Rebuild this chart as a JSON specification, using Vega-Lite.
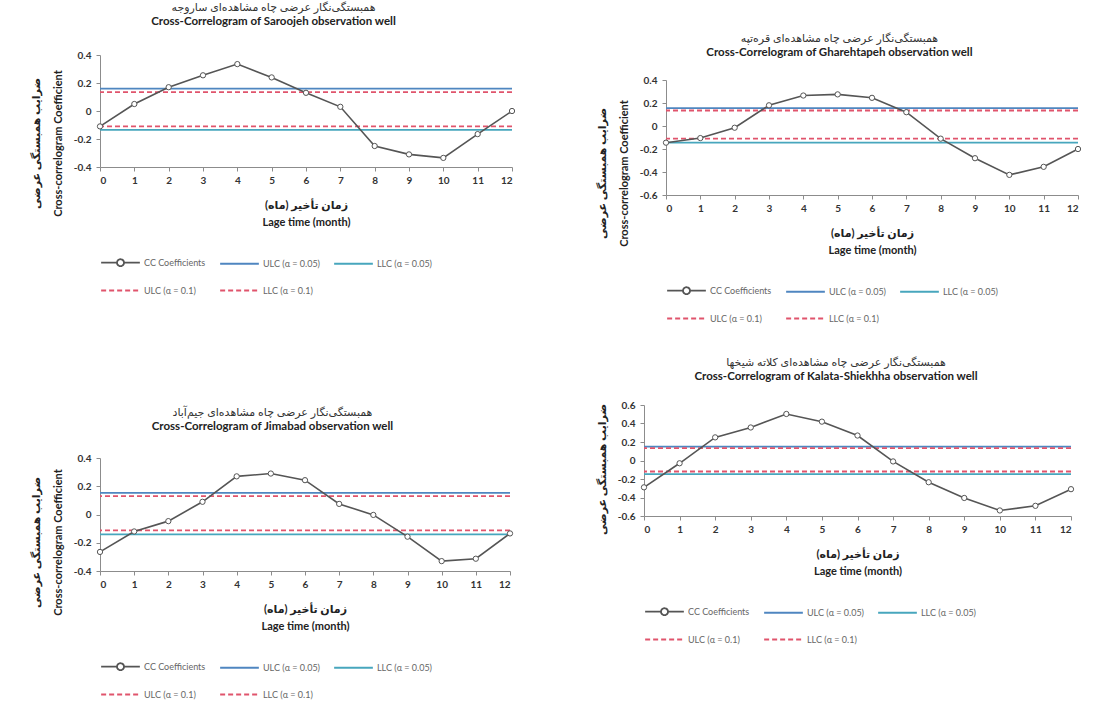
{
  "$schema": "https://vega.github.io/schema/vega-lite/v6.json",
  "padding": {"left": 30, "top": 0, "right": 5, "bottom": 5},
  "background": "white",
  "datasets": {
    "cc": [
      {"well": "Saroojeh", "series": "CC Coefficients", "lag": 0, "value": -0.11},
      {"well": "Saroojeh", "series": "CC Coefficients", "lag": 1, "value": 0.05},
      {"well": "Saroojeh", "series": "CC Coefficients", "lag": 2, "value": 0.17},
      {"well": "Saroojeh", "series": "CC Coefficients", "lag": 3, "value": 0.255},
      {"well": "Saroojeh", "series": "CC Coefficients", "lag": 4, "value": 0.335},
      {"well": "Saroojeh", "series": "CC Coefficients", "lag": 5, "value": 0.24},
      {"well": "Saroojeh", "series": "CC Coefficients", "lag": 6, "value": 0.13},
      {"well": "Saroojeh", "series": "CC Coefficients", "lag": 7, "value": 0.03},
      {"well": "Saroojeh", "series": "CC Coefficients", "lag": 8, "value": -0.25},
      {"well": "Saroojeh", "series": "CC Coefficients", "lag": 9, "value": -0.31},
      {"well": "Saroojeh", "series": "CC Coefficients", "lag": 10, "value": -0.335},
      {"well": "Saroojeh", "series": "CC Coefficients", "lag": 11, "value": -0.165},
      {"well": "Saroojeh", "series": "CC Coefficients", "lag": 12, "value": 0.0},
      {"well": "Gharehtapeh", "series": "CC Coefficients", "lag": 0, "value": -0.145},
      {"well": "Gharehtapeh", "series": "CC Coefficients", "lag": 1, "value": -0.105},
      {"well": "Gharehtapeh", "series": "CC Coefficients", "lag": 2, "value": -0.015},
      {"well": "Gharehtapeh", "series": "CC Coefficients", "lag": 3, "value": 0.18},
      {"well": "Gharehtapeh", "series": "CC Coefficients", "lag": 4, "value": 0.265},
      {"well": "Gharehtapeh", "series": "CC Coefficients", "lag": 5, "value": 0.275},
      {"well": "Gharehtapeh", "series": "CC Coefficients", "lag": 6, "value": 0.245},
      {"well": "Gharehtapeh", "series": "CC Coefficients", "lag": 7, "value": 0.12},
      {"well": "Gharehtapeh", "series": "CC Coefficients", "lag": 8, "value": -0.11},
      {"well": "Gharehtapeh", "series": "CC Coefficients", "lag": 9, "value": -0.28},
      {"well": "Gharehtapeh", "series": "CC Coefficients", "lag": 10, "value": -0.425},
      {"well": "Gharehtapeh", "series": "CC Coefficients", "lag": 11, "value": -0.355},
      {"well": "Gharehtapeh", "series": "CC Coefficients", "lag": 12, "value": -0.2},
      {"well": "Jimabad", "series": "CC Coefficients", "lag": 0, "value": -0.265},
      {"well": "Jimabad", "series": "CC Coefficients", "lag": 1, "value": -0.12},
      {"well": "Jimabad", "series": "CC Coefficients", "lag": 2, "value": -0.047},
      {"well": "Jimabad", "series": "CC Coefficients", "lag": 3, "value": 0.09},
      {"well": "Jimabad", "series": "CC Coefficients", "lag": 4, "value": 0.27},
      {"well": "Jimabad", "series": "CC Coefficients", "lag": 5, "value": 0.29},
      {"well": "Jimabad", "series": "CC Coefficients", "lag": 6, "value": 0.243},
      {"well": "Jimabad", "series": "CC Coefficients", "lag": 7, "value": 0.075},
      {"well": "Jimabad", "series": "CC Coefficients", "lag": 8, "value": -0.003},
      {"well": "Jimabad", "series": "CC Coefficients", "lag": 9, "value": -0.157},
      {"well": "Jimabad", "series": "CC Coefficients", "lag": 10, "value": -0.33},
      {"well": "Jimabad", "series": "CC Coefficients", "lag": 11, "value": -0.313},
      {"well": "Jimabad", "series": "CC Coefficients", "lag": 12, "value": -0.134},
      {"well": "Kalata-Shiekhha", "series": "CC Coefficients", "lag": 0, "value": -0.29},
      {"well": "Kalata-Shiekhha", "series": "CC Coefficients", "lag": 1, "value": -0.03},
      {"well": "Kalata-Shiekhha", "series": "CC Coefficients", "lag": 2, "value": 0.25},
      {"well": "Kalata-Shiekhha", "series": "CC Coefficients", "lag": 3, "value": 0.357},
      {"well": "Kalata-Shiekhha", "series": "CC Coefficients", "lag": 4, "value": 0.503},
      {"well": "Kalata-Shiekhha", "series": "CC Coefficients", "lag": 5, "value": 0.42},
      {"well": "Kalata-Shiekhha", "series": "CC Coefficients", "lag": 6, "value": 0.27},
      {"well": "Kalata-Shiekhha", "series": "CC Coefficients", "lag": 7, "value": -0.01},
      {"well": "Kalata-Shiekhha", "series": "CC Coefficients", "lag": 8, "value": -0.235},
      {"well": "Kalata-Shiekhha", "series": "CC Coefficients", "lag": 9, "value": -0.405},
      {"well": "Kalata-Shiekhha", "series": "CC Coefficients", "lag": 10, "value": -0.54},
      {"well": "Kalata-Shiekhha", "series": "CC Coefficients", "lag": 11, "value": -0.49},
      {"well": "Kalata-Shiekhha", "series": "CC Coefficients", "lag": 12, "value": -0.31}
    ],
    "lim": [
      {"well": "Saroojeh", "series": "ULC (α = 0.05)", "value": 0.16},
      {"well": "Saroojeh", "series": "LLC (α = 0.05)", "value": -0.135},
      {"well": "Saroojeh", "series": "ULC (α = 0.1)", "value": 0.135},
      {"well": "Saroojeh", "series": "LLC (α = 0.1)", "value": -0.11},
      {"well": "Gharehtapeh", "series": "ULC (α = 0.05)", "value": 0.155},
      {"well": "Gharehtapeh", "series": "LLC (α = 0.05)", "value": -0.145},
      {"well": "Gharehtapeh", "series": "ULC (α = 0.1)", "value": 0.135},
      {"well": "Gharehtapeh", "series": "LLC (α = 0.1)", "value": -0.11},
      {"well": "Jimabad", "series": "ULC (α = 0.05)", "value": 0.153},
      {"well": "Jimabad", "series": "LLC (α = 0.05)", "value": -0.141},
      {"well": "Jimabad", "series": "ULC (α = 0.1)", "value": 0.13},
      {"well": "Jimabad", "series": "LLC (α = 0.1)", "value": -0.113},
      {"well": "Kalata-Shiekhha", "series": "ULC (α = 0.05)", "value": 0.151},
      {"well": "Kalata-Shiekhha", "series": "LLC (α = 0.05)", "value": -0.148},
      {"well": "Kalata-Shiekhha", "series": "ULC (α = 0.1)", "value": 0.133},
      {"well": "Kalata-Shiekhha", "series": "LLC (α = 0.1)", "value": -0.119}
    ]
  },
  "config": {
    "font": "Lato, DejaVu Sans",
    "view": {"stroke": null},
    "axis": {"grid": false, "labelOverlap": false, "tickCount": 20, "domainColor": "#8c8c8c", "tickColor": "#8c8c8c", "tickSize": 4, "labelFont": "Lato", "labelFontSize": 10, "labelFontWeight": "bold", "labelColor": "#333333", "titleFont": "Lato, DejaVu Sans", "titleFontSize": 11, "titleFontWeight": "bold", "titleColor": "#222222"},
    "axisX": {"titlePadding": 14, "labelPadding": 4, "titleLineHeight": 17},
    "axisY": {"titlePadding": 10, "labelPadding": 5, "titleLineHeight": 22},
    "legend": {"orient": "bottom", "direction": "horizontal", "columns": 3, "symbolSize": 1500, "symbolStrokeWidth": 1.8, "labelFontSize": 9, "labelColor": "#666666", "columnPadding": 10, "rowPadding": -30, "offset": 15, "labelFont": "Lato", "labelOffset": 3},
    "title": {"font": "Lato, DejaVu Sans", "fontSize": 11, "fontWeight": "normal", "color": "#333333", "subtitleFont": "Lato", "subtitleFontSize": 11.5, "subtitleFontWeight": "bold", "subtitleColor": "#222222", "subtitlePadding": 0, "anchor": "middle", "frame": "bounds", "offset": 19}
  },
  "spacing": 78,
  "resolve": {"scale": {"color": "independent", "strokeDash": "independent", "shape": "independent"}, "legend": {"color": "independent", "strokeDash": "independent", "shape": "independent"}},
  "hconcat": [
    {
      "spacing": 110,
      "resolve": {"scale": {"color": "independent", "strokeDash": "independent", "shape": "independent"}, "legend": {"color": "independent", "strokeDash": "independent", "shape": "independent"}},
      "vconcat": [
        {
          "spacing": 0,
          "resolve": {"scale": {"color": "independent", "strokeDash": "independent", "shape": "independent"}, "legend": {"color": "independent", "strokeDash": "independent", "shape": "independent"}},
          "vconcat": [
            {"width": 1, "height": 1, "data": {"values": []}, "mark": "point"},
            {
              "width": 412, "height": 112,
              "title": {"text": "همبستگی‌نگار عرضی چاه مشاهده‌ای ساروجه", "subtitle": "Cross-Correlogram of Saroojeh observation well", "offset": 23},
              "layer": [
                {"data": {"name": "lim"}, "transform": [{"filter": "datum.well == 'Saroojeh'"}],
                 "mark": {"type": "rule", "strokeWidth": 1.8},
                 "encoding": {
                   "y": {"field": "value", "type": "quantitative", "scale": {"domain": [-0.4, 0.4], "nice": false, "zero": false}, "axis": {"values": [-0.4, -0.2, 0, 0.2, 0.4], "tickCount": 20, "labelOverlap": false, "titleY": 88, "title": ["ضرایب همبستگی عرضی", "Cross-correlogram Coefficient"], "labelExpr": "datum.value == 0 ? '0' : replace(format(datum.value, '.1f'), '−', '-')"}},
                   "color": {"field": "series", "type": "nominal", "scale": {"domain": ["CC Coefficients", "ULC (α = 0.05)", "LLC (α = 0.05)", "ULC (α = 0.1)", "LLC (α = 0.1)"], "range": ["#555555", "#4f86c0", "#47a6bd", "#e0546c", "#e0546c"]}, "legend": {"title": null}},
                   "strokeDash": {"field": "series", "type": "nominal", "scale": {"domain": ["CC Coefficients", "ULC (α = 0.05)", "LLC (α = 0.05)", "ULC (α = 0.1)", "LLC (α = 0.1)"], "range": [[1, 0], [1, 0], [1, 0], [5, 3], [5, 3]]}, "legend": {"title": null}}
                 }},
                {"data": {"name": "cc"}, "transform": [{"filter": "datum.well == 'Saroojeh'"}],
                 "mark": {"type": "line", "strokeWidth": 1.6},
                 "encoding": {
                   "x": {"field": "lag", "type": "quantitative", "scale": {"domain": [0, 12], "nice": false}, "axis": {"values": [0,1,2,3,4,5,6,7,8,9,10,11,12], "tickCount": 20, "labelOverlap": false, "format": "d", "title": ["زمان تأخیر (ماه)", "Lage time (month)"]}},
                   "y": {"field": "value", "type": "quantitative", "scale": {"domain": [-0.4, 0.4], "nice": false, "zero": false}, "axis": {"values": [-0.4, -0.2, 0, 0.2, 0.4], "tickCount": 20, "labelOverlap": false, "titleY": 88, "title": ["ضرایب همبستگی عرضی", "Cross-correlogram Coefficient"], "labelExpr": "datum.value == 0 ? '0' : replace(format(datum.value, '.1f'), '−', '-')"}},
                   "color": {"field": "series", "type": "nominal", "scale": {"domain": ["CC Coefficients", "ULC (α = 0.05)", "LLC (α = 0.05)", "ULC (α = 0.1)", "LLC (α = 0.1)"], "range": ["#555555", "#4f86c0", "#47a6bd", "#e0546c", "#e0546c"]}, "legend": {"title": null}}
                 }},
                {"data": {"name": "cc"}, "transform": [{"filter": "datum.well == 'Saroojeh'"}],
                 "mark": {"type": "point", "shape": "circle", "filled": false, "fill": "white", "size": 28, "strokeWidth": 1, "opacity": 1},
                 "encoding": {
                   "x": {"field": "lag", "type": "quantitative"},
                   "y": {"field": "value", "type": "quantitative"},
                   "color": {"field": "series", "type": "nominal", "legend": {"title": null}}
                 }},
                {"data": {"name": "cc"}, "transform": [{"filter": "false"}],
                 "mark": {"type": "point", "filled": false},
                 "encoding": {
                   "x": {"field": "lag", "type": "quantitative"},
                   "y": {"field": "value", "type": "quantitative"},
                   "color": {"field": "series", "type": "nominal", "legend": {"title": null}},
                   "shape": {"field": "series", "type": "nominal", "scale": {"domain": ["CC Coefficients", "ULC (α = 0.05)", "LLC (α = 0.05)", "ULC (α = 0.1)", "LLC (α = 0.1)"], "range": ["M-1,0H-0.18M0.18,0H1M-0.18,0A0.18,0.18,0,1,1,0.18,0A0.18,0.18,0,1,1,-0.18,0", "stroke", "stroke", "stroke", "stroke"]}, "legend": {"title": null}}
                 }}
              ]
            }
          ]
        },
        {
          "width": 410, "height": 113,
          "title": {"text": "همبستگی‌نگار عرضی چاه مشاهده‌ای جیم‌آباد", "subtitle": "Cross-Correlogram of Jimabad observation well", "offset": 21},
          "layer": [
            {"data": {"name": "lim"}, "transform": [{"filter": "datum.well == 'Jimabad'"}],
             "mark": {"type": "rule", "strokeWidth": 1.8},
             "encoding": {
               "y": {"field": "value", "type": "quantitative", "scale": {"domain": [-0.4, 0.4], "nice": false, "zero": false}, "axis": {"values": [-0.4, -0.2, 0, 0.2, 0.4], "tickCount": 20, "labelOverlap": false, "titleY": 84, "title": ["ضرایب همبستگی عرضی", "Cross-correlogram Coefficient"], "labelExpr": "datum.value == 0 ? '0' : replace(format(datum.value, '.1f'), '−', '-')"}},
               "color": {"field": "series", "type": "nominal", "scale": {"domain": ["CC Coefficients", "ULC (α = 0.05)", "LLC (α = 0.05)", "ULC (α = 0.1)", "LLC (α = 0.1)"], "range": ["#555555", "#4f86c0", "#47a6bd", "#e0546c", "#e0546c"]}, "legend": {"title": null}},
               "strokeDash": {"field": "series", "type": "nominal", "scale": {"domain": ["CC Coefficients", "ULC (α = 0.05)", "LLC (α = 0.05)", "ULC (α = 0.1)", "LLC (α = 0.1)"], "range": [[1, 0], [1, 0], [1, 0], [5, 3], [5, 3]]}, "legend": {"title": null}}
             }},
            {"data": {"name": "cc"}, "transform": [{"filter": "datum.well == 'Jimabad'"}],
             "mark": {"type": "line", "strokeWidth": 1.6},
             "encoding": {
               "x": {"field": "lag", "type": "quantitative", "scale": {"domain": [0, 12], "nice": false}, "axis": {"values": [0,1,2,3,4,5,6,7,8,9,10,11,12], "tickCount": 20, "labelOverlap": false, "format": "d", "title": ["زمان تأخیر (ماه)", "Lage time (month)"]}},
               "y": {"field": "value", "type": "quantitative", "scale": {"domain": [-0.4, 0.4], "nice": false, "zero": false}, "axis": {"values": [-0.4, -0.2, 0, 0.2, 0.4], "tickCount": 20, "labelOverlap": false, "titleY": 84, "title": ["ضرایب همبستگی عرضی", "Cross-correlogram Coefficient"], "labelExpr": "datum.value == 0 ? '0' : replace(format(datum.value, '.1f'), '−', '-')"}},
               "color": {"field": "series", "type": "nominal", "scale": {"domain": ["CC Coefficients", "ULC (α = 0.05)", "LLC (α = 0.05)", "ULC (α = 0.1)", "LLC (α = 0.1)"], "range": ["#555555", "#4f86c0", "#47a6bd", "#e0546c", "#e0546c"]}, "legend": {"title": null}}
             }},
            {"data": {"name": "cc"}, "transform": [{"filter": "datum.well == 'Jimabad'"}],
             "mark": {"type": "point", "shape": "circle", "filled": false, "fill": "white", "size": 28, "strokeWidth": 1, "opacity": 1},
             "encoding": {
               "x": {"field": "lag", "type": "quantitative"},
               "y": {"field": "value", "type": "quantitative"},
               "color": {"field": "series", "type": "nominal", "legend": {"title": null}}
             }},
            {"data": {"name": "cc"}, "transform": [{"filter": "false"}],
             "mark": {"type": "point", "filled": false},
             "encoding": {
               "x": {"field": "lag", "type": "quantitative"},
               "y": {"field": "value", "type": "quantitative"},
               "color": {"field": "series", "type": "nominal", "legend": {"title": null}},
               "shape": {"field": "series", "type": "nominal", "scale": {"domain": ["CC Coefficients", "ULC (α = 0.05)", "LLC (α = 0.05)", "ULC (α = 0.1)", "LLC (α = 0.1)"], "range": ["M-1,0H-0.18M0.18,0H1M-0.18,0A0.18,0.18,0,1,1,0.18,0A0.18,0.18,0,1,1,-0.18,0", "stroke", "stroke", "stroke", "stroke"]}, "legend": {"title": null}}
             }}
          ]
        }
      ]
    },
    {
      "spacing": 32,
      "resolve": {"scale": {"color": "independent", "strokeDash": "independent", "shape": "independent"}, "legend": {"color": "independent", "strokeDash": "independent", "shape": "independent"}},
      "vconcat": [
        {
          "spacing": 0,
          "resolve": {"scale": {"color": "independent", "strokeDash": "independent", "shape": "independent"}, "legend": {"color": "independent", "strokeDash": "independent", "shape": "independent"}},
          "hconcat": [
            {"width": 1, "height": 1, "data": {"values": []}, "mark": "point"},
            {
              "spacing": 31,
              "resolve": {"scale": {"color": "independent", "strokeDash": "independent", "shape": "independent"}, "legend": {"color": "independent", "strokeDash": "independent", "shape": "independent"}},
              "vconcat": [
                {"width": 1, "height": 1, "data": {"values": []}, "mark": "point"},
                {
                  "width": 412, "height": 115,
                  "title": {"text": "همبستگی‌نگار عرضی چاه مشاهده‌ای قره‌تپه", "subtitle": "Cross-Correlogram of Gharehtapeh observation well", "offset": 17},
                  "layer": [
                    {"data": {"name": "lim"}, "transform": [{"filter": "datum.well == 'Gharehtapeh'"}],
                     "mark": {"type": "rule", "strokeWidth": 1.8},
                     "encoding": {
                       "y": {"field": "value", "type": "quantitative", "scale": {"domain": [-0.6, 0.4], "nice": false, "zero": false}, "axis": {"values": [-0.6, -0.4, -0.2, 0, 0.2, 0.4], "tickCount": 20, "labelOverlap": false, "titleY": 93, "title": ["ضرایب همبستگی عرضی", "Cross-correlogram Coefficient"], "labelExpr": "datum.value == 0 ? '0' : replace(format(datum.value, '.1f'), '−', '-')"}},
                       "color": {"field": "series", "type": "nominal", "scale": {"domain": ["CC Coefficients", "ULC (α = 0.05)", "LLC (α = 0.05)", "ULC (α = 0.1)", "LLC (α = 0.1)"], "range": ["#555555", "#4f86c0", "#47a6bd", "#e0546c", "#e0546c"]}, "legend": {"title": null}},
                       "strokeDash": {"field": "series", "type": "nominal", "scale": {"domain": ["CC Coefficients", "ULC (α = 0.05)", "LLC (α = 0.05)", "ULC (α = 0.1)", "LLC (α = 0.1)"], "range": [[1, 0], [1, 0], [1, 0], [5, 3], [5, 3]]}, "legend": {"title": null}}
                     }},
                    {"data": {"name": "cc"}, "transform": [{"filter": "datum.well == 'Gharehtapeh'"}],
                     "mark": {"type": "line", "strokeWidth": 1.6},
                     "encoding": {
                       "x": {"field": "lag", "type": "quantitative", "scale": {"domain": [0, 12], "nice": false}, "axis": {"values": [0,1,2,3,4,5,6,7,8,9,10,11,12], "tickCount": 20, "labelOverlap": false, "format": "d", "title": ["زمان تأخیر (ماه)", "Lage time (month)"]}},
                       "y": {"field": "value", "type": "quantitative", "scale": {"domain": [-0.6, 0.4], "nice": false, "zero": false}, "axis": {"values": [-0.6, -0.4, -0.2, 0, 0.2, 0.4], "tickCount": 20, "labelOverlap": false, "titleY": 93, "title": ["ضرایب همبستگی عرضی", "Cross-correlogram Coefficient"], "labelExpr": "datum.value == 0 ? '0' : replace(format(datum.value, '.1f'), '−', '-')"}},
                       "color": {"field": "series", "type": "nominal", "scale": {"domain": ["CC Coefficients", "ULC (α = 0.05)", "LLC (α = 0.05)", "ULC (α = 0.1)", "LLC (α = 0.1)"], "range": ["#555555", "#4f86c0", "#47a6bd", "#e0546c", "#e0546c"]}, "legend": {"title": null}}
                     }},
                    {"data": {"name": "cc"}, "transform": [{"filter": "datum.well == 'Gharehtapeh'"}],
                     "mark": {"type": "point", "shape": "circle", "filled": false, "fill": "white", "size": 28, "strokeWidth": 1, "opacity": 1},
                     "encoding": {
                       "x": {"field": "lag", "type": "quantitative"},
                       "y": {"field": "value", "type": "quantitative"},
                       "color": {"field": "series", "type": "nominal", "legend": {"title": null}}
                     }},
                    {"data": {"name": "cc"}, "transform": [{"filter": "false"}],
                     "mark": {"type": "point", "filled": false},
                     "encoding": {
                       "x": {"field": "lag", "type": "quantitative"},
                       "y": {"field": "value", "type": "quantitative"},
                       "color": {"field": "series", "type": "nominal", "legend": {"title": null}},
                       "shape": {"field": "series", "type": "nominal", "scale": {"domain": ["CC Coefficients", "ULC (α = 0.05)", "LLC (α = 0.05)", "ULC (α = 0.1)", "LLC (α = 0.1)"], "range": ["M-1,0H-0.18M0.18,0H1M-0.18,0A0.18,0.18,0,1,1,0.18,0A0.18,0.18,0,1,1,-0.18,0", "stroke", "stroke", "stroke", "stroke"]}, "legend": {"title": null}}
                     }}
                  ]
                }
              ]
            }
          ]
        },
        {
          "spacing": 0,
          "resolve": {"scale": {"color": "independent", "strokeDash": "independent", "shape": "independent"}, "legend": {"color": "independent", "strokeDash": "independent", "shape": "independent"}},
          "hconcat": [
            {"width": 1, "height": 1, "data": {"values": []}, "mark": "point"},
            {
              "width": 427, "height": 111,
              "title": {"text": "همبستگی‌نگار عرضی چاه مشاهده‌ای کلاته شیخها", "subtitle": "Cross-Correlogram of Kalata-Shiekhha observation well", "offset": 18},
              "layer": [
                {"data": {"name": "lim"}, "transform": [{"filter": "datum.well == 'Kalata-Shiekhha'"}],
                 "mark": {"type": "rule", "strokeWidth": 1.8},
                 "encoding": {
                   "y": {"field": "value", "type": "quantitative", "scale": {"domain": [-0.6, 0.6], "nice": false, "zero": false}, "axis": {"values": [-0.6, -0.4, -0.2, 0, 0.2, 0.4, 0.6], "tickCount": 20, "labelOverlap": false, "titleY": 64, "title": "ضرایب همبستگی عرضی", "labelExpr": "datum.value == 0 ? '0' : replace(format(datum.value, '.1f'), '−', '-')"}},
                   "color": {"field": "series", "type": "nominal", "scale": {"domain": ["CC Coefficients", "ULC (α = 0.05)", "LLC (α = 0.05)", "ULC (α = 0.1)", "LLC (α = 0.1)"], "range": ["#555555", "#4f86c0", "#47a6bd", "#e0546c", "#e0546c"]}, "legend": {"title": null}},
                   "strokeDash": {"field": "series", "type": "nominal", "scale": {"domain": ["CC Coefficients", "ULC (α = 0.05)", "LLC (α = 0.05)", "ULC (α = 0.1)", "LLC (α = 0.1)"], "range": [[1, 0], [1, 0], [1, 0], [5, 3], [5, 3]]}, "legend": {"title": null}}
                 }},
                {"data": {"name": "cc"}, "transform": [{"filter": "datum.well == 'Kalata-Shiekhha'"}],
                 "mark": {"type": "line", "strokeWidth": 1.6},
                 "encoding": {
                   "x": {"field": "lag", "type": "quantitative", "scale": {"domain": [0, 12], "nice": false}, "axis": {"values": [0,1,2,3,4,5,6,7,8,9,10,11,12], "tickCount": 20, "labelOverlap": false, "format": "d", "title": ["زمان تأخیر (ماه)", "Lage time (month)"]}},
                   "y": {"field": "value", "type": "quantitative", "scale": {"domain": [-0.6, 0.6], "nice": false, "zero": false}, "axis": {"values": [-0.6, -0.4, -0.2, 0, 0.2, 0.4, 0.6], "tickCount": 20, "labelOverlap": false, "titleY": 64, "title": "ضرایب همبستگی عرضی", "labelExpr": "datum.value == 0 ? '0' : replace(format(datum.value, '.1f'), '−', '-')"}},
                   "color": {"field": "series", "type": "nominal", "scale": {"domain": ["CC Coefficients", "ULC (α = 0.05)", "LLC (α = 0.05)", "ULC (α = 0.1)", "LLC (α = 0.1)"], "range": ["#555555", "#4f86c0", "#47a6bd", "#e0546c", "#e0546c"]}, "legend": {"title": null}}
                 }},
                {"data": {"name": "cc"}, "transform": [{"filter": "datum.well == 'Kalata-Shiekhha'"}],
                 "mark": {"type": "point", "shape": "circle", "filled": false, "fill": "white", "size": 28, "strokeWidth": 1, "opacity": 1},
                 "encoding": {
                   "x": {"field": "lag", "type": "quantitative"},
                   "y": {"field": "value", "type": "quantitative"},
                   "color": {"field": "series", "type": "nominal", "legend": {"title": null}}
                 }},
                {"data": {"name": "cc"}, "transform": [{"filter": "false"}],
                 "mark": {"type": "point", "filled": false},
                 "encoding": {
                   "x": {"field": "lag", "type": "quantitative"},
                   "y": {"field": "value", "type": "quantitative"},
                   "color": {"field": "series", "type": "nominal", "legend": {"title": null}},
                   "shape": {"field": "series", "type": "nominal", "scale": {"domain": ["CC Coefficients", "ULC (α = 0.05)", "LLC (α = 0.05)", "ULC (α = 0.1)", "LLC (α = 0.1)"], "range": ["M-1,0H-0.18M0.18,0H1M-0.18,0A0.18,0.18,0,1,1,0.18,0A0.18,0.18,0,1,1,-0.18,0", "stroke", "stroke", "stroke", "stroke"]}, "legend": {"title": null}}
                 }}
              ]
            }
          ]
        }
      ]
    }
  ]
}
